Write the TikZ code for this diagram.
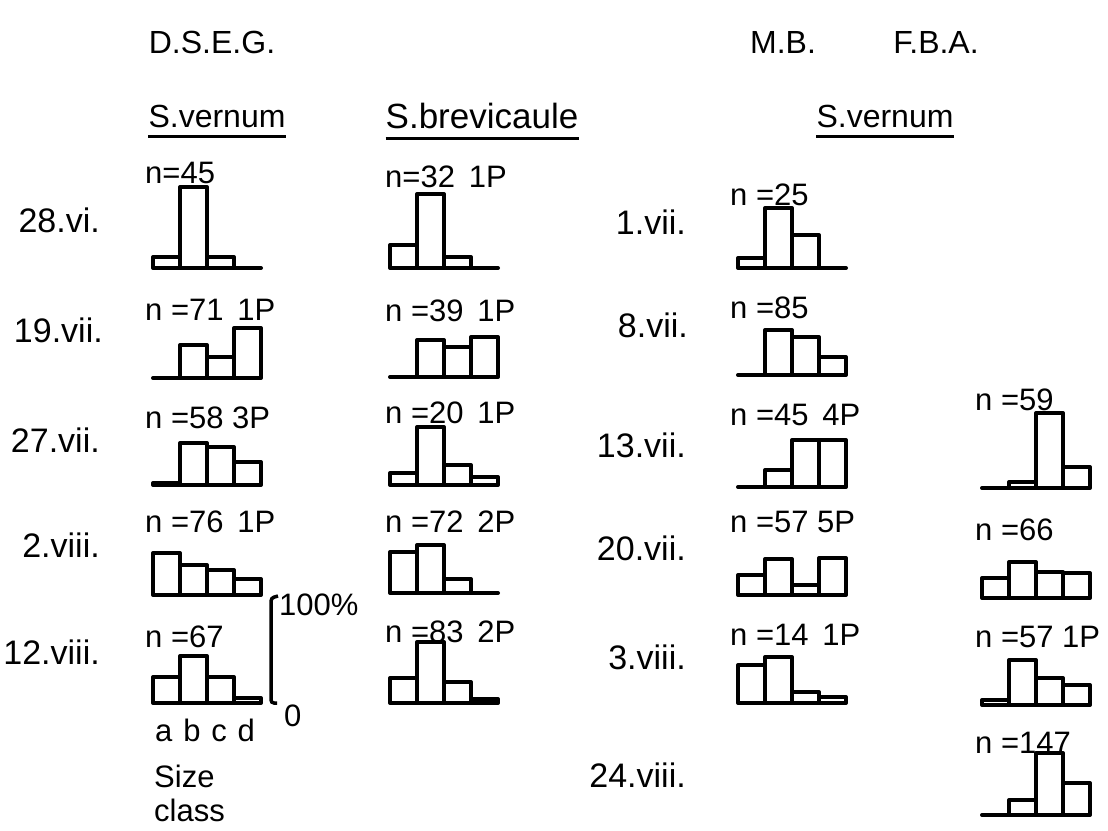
\documentclass[tikz,border=0pt]{standalone}
\usepackage{fontspec}
\setmainfont{Liberation Sans}
% one size-class histogram: left end, base line, heights of a b c d
\newcommand{\sizebars}[6]{%
	\draw[bar] (#1,#2) -- ++(108,0);
	\draw[bar] (#1,#2) rectangle ++(27,-#3);
	\draw[bar] (#1+27,#2) rectangle ++(27,-#4);
	\draw[bar] (#1+54,#2) rectangle ++(27,-#5);
	\draw[bar] (#1+81,#2) rectangle ++(27,-#6);
}

\begin{document}
\begin{tikzpicture}[x=1pt, y=-1pt,
	bar/.style={line width=4pt, line join=round},
	uline/.style={line width=3pt},
	date/.style={font=\fontsize{34}{38}\selectfont, anchor=east, inner sep=0pt},
	count/.style={font=\fontsize{31}{34}\selectfont, anchor=west, inner sep=0pt},
	head/.style={font=\fontsize{32}{36}\selectfont, inner sep=0pt}]
	\useasboundingbox (0,0) rectangle (1108,830);

	% headings
	\node[head] (dseg) at (212,42) {D.S.E.G.};
	\node[head] (mb) at (783,42) {M.B.};
	\node[head] (fba) at (936,42) {F.B.A.};
	\node[head] (sv1) at (217,116) {S.vernum};
	\node[head, font=\fontsize{35}{38}\selectfont] (sbrev) at (482,116) {S.brevicaule};
	\node[head] (sv2) at (885,116) {S.vernum};
	\draw[uline] ([yshift=-9pt]sv1.south west) -- ([yshift=-9pt]sv1.south east);
	\draw[uline] ([yshift=-9pt]sbrev.south west) -- ([yshift=-9pt]sbrev.south east);
	\draw[uline] ([yshift=-9pt]sv2.south west) -- ([yshift=-9pt]sv2.south east);

	% dates
	\node[date] (d1) at (100,220) {28.vi.};
	\node[date] (d2) at (103,330) {19.vii.};
	\node[date] (d3) at (100,440) {27.vii.};
	\node[date] (d4) at (100,545) {2.viii.};
	\node[date] (d5) at (100,652) {12.viii.};
	\node[date] (e1) at (686,222) {1.vii.};
	\node[date] (e2) at (688,325) {8.vii.};
	\node[date] (e3) at (686,445) {13.vii.};
	\node[date] (e4) at (686,548) {20.vii.};
	\node[date] (e5) at (686,657) {3.viii.};
	\node[date] (e6) at (686,775) {24.viii.};

	% D.S.E.G., S.vernum
	\node[count] (n11) at (145,173) {n=45};
	\sizebars{153}{268}{11}{81}{11}{0}
	\node[count] (n12) at (145,310) {n =71~\,1P};
	\sizebars{153}{378}{0}{33}{21}{50}
	\node[count] (n13) at (145,418) {n =58 3P};
	\sizebars{153}{485}{2}{42}{38}{23}
	\node[count] (n14) at (145,522) {n =76~\,1P};
	\sizebars{153}{595}{42}{30}{25}{16}
	\node[count] (n15) at (145,637) {n =67};
	\sizebars{153}{703}{26}{47}{26}{5}

	% D.S.E.G., S.brevicaule
	\node[count] (n21) at (385,177) {n=32~\,1P};
	\sizebars{390}{268}{23}{74}{11}{0}
	\node[count] (n22) at (385,311) {n =39~\,1P};
	\sizebars{390}{377}{0}{37}{30}{40}
	\node[count] (n23) at (385,413) {n =20~\,1P};
	\sizebars{390}{485}{12}{58}{20}{8}
	\node[count] (n24) at (385,522) {n =72~\,2P};
	\sizebars{390}{593}{41}{48}{14}{0}
	\node[count] (n25) at (385,632) {n =83~\,2P};
	\sizebars{390}{703}{25}{61}{21}{4}

	% M.B., S.vernum
	\node[count] (n31) at (730,195) {n =25};
	\sizebars{738}{268}{10}{60}{33}{0}
	\node[count] (n32) at (730,308) {n =85};
	\sizebars{738}{375}{0}{45}{38}{18}
	\node[count] (n33) at (730,415) {n =45~\,4P};
	\sizebars{738}{487}{0}{17}{47}{47}
	\node[count] (n34) at (730,522) {n =57 5P};
	\sizebars{738}{595}{20}{36}{10}{37}
	\node[count] (n35) at (730,635) {n =14~\,1P};
	\sizebars{738}{703}{38}{46}{11}{6}

	% F.B.A.
	\node[count] (n43) at (975,400) {n =59};
	\sizebars{982}{488}{0}{6}{75}{21}
	\node[count] (n44) at (975,530) {n =66};
	\sizebars{982}{598}{20}{36}{26}{25}
	\node[count] (n45) at (975,637) {n =57~1P};
	\sizebars{982}{705}{5}{45}{27}{20}
	\node[count] (n46) at (975,743) {n =147};
	\sizebars{982}{815}{0}{15}{62}{32}

	% scale and size classes
	\draw[line width=3.5pt, rounded corners=3pt] (278,596) -- (271,598) -- (271,703) -- (277,703);
	\node[count] (full) at (279,605) {100\%};
	\node[count] (zero) at (284,716) {0};
	\node[count] (abcd) at (155,730) {a\hspace{0.35em}b\hspace{0.35em}c\hspace{0.35em}d};
	\node[count, anchor=north west, align=left, font=\fontsize{31}{34}\selectfont] (size) at (154,765) {Size\\class};
\end{tikzpicture}
\end{document}
